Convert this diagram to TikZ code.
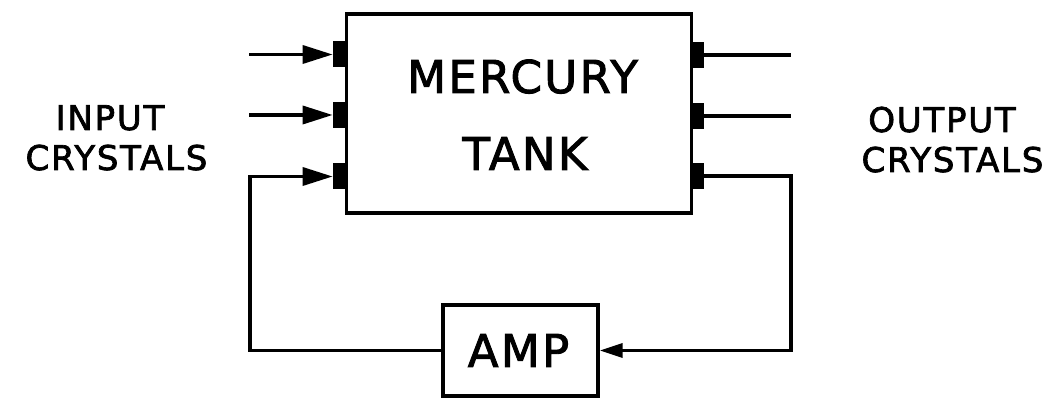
\documentclass[tikz,border=0pt]{standalone}
\usepackage{fontspec}
\usepackage{tikz}
\usetikzlibrary{arrows.meta,positioning,calc}
\newfontfamily\lettering[LetterSpace=5,FakeBold=2]{DejaVu Sans}

\begin{document}
\begin{tikzpicture}[
  x=0.02cm, y=-0.02cm,
  tankbox/.style={rectangle, draw=black, line width=2pt, minimum width=6.9cm, minimum height=3.98cm, inner sep=0pt},
  ampbox/.style={rectangle, draw=black, line width=2pt, minimum width=3.1cm, minimum height=1.82cm, inner sep=0pt},
  xtal/.style={rectangle, fill=black, minimum width=0.28cm, minimum height=0.52cm, inner sep=0pt},
  big/.style={font=\lettering\fontsize{25.7}{30}\selectfont, anchor=base, inner sep=0pt},
  small/.style={font=\lettering\fontsize{19.4}{24}\selectfont, anchor=base, inner sep=0pt},
  wire/.style={draw=black, line width=2pt},
  arr/.style={wire, -{Triangle[length=0.6cm,width=0.36cm]}},
  amparr/.style={wire, -{Triangle[length=0.46cm,width=0.28cm]}}
]
\useasboundingbox (0,0) rectangle (1055,398);

\node[tankbox] (tank) at (519,113.5) {};
\node[ampbox] (amp) at (520.5,350.5) {};

% crystals on the tank walls
\node[xtal] (in1) at (340,54.5) {};
\node[xtal] (in2) at (340,115) {};
\node[xtal] (in3) at (340,176.5) {};
\node[xtal] (out1) at (697,55) {};
\node[xtal] (out2) at (697,116) {};
\node[xtal] (out3) at (697,176) {};

\coordinate (src1) at (249,54.5);
\coordinate (src2) at (249,115);
\coordinate (fbl) at (250,176.5);
\coordinate (dst1) at (791,55);
\coordinate (dst2) at (791,116);
\coordinate (fbr) at (791,176);

\draw[arr] (src1) -- (in1.west);
\draw[arr] (src2) -- (in2.west);
\draw[arr] (amp.west) -| (fbl) -- (in3.west);
\draw[wire] (out1.east) -- (dst1);
\draw[wire] (out2.east) -- (dst2);
\draw[amparr] (out3.east) -- (fbr) |- (amp.east);

\node[big] (merc) at (522.5,93) {MERCURY};
\node[big] (tanklbl) at (525,170) {TANK};
\node[big] (amplbl) at (518.5,367) {AMP};
\node[small] (inlbl) at (110,130) {INPUT};
\node[small] (incry) at (116.5,170) {CRYSTALS};
\node[small] (outlbl) at (942,132) {OUTPUT};
\node[small] (outcry) at (952.5,172) {CRYSTALS};
\end{tikzpicture}
\end{document}
